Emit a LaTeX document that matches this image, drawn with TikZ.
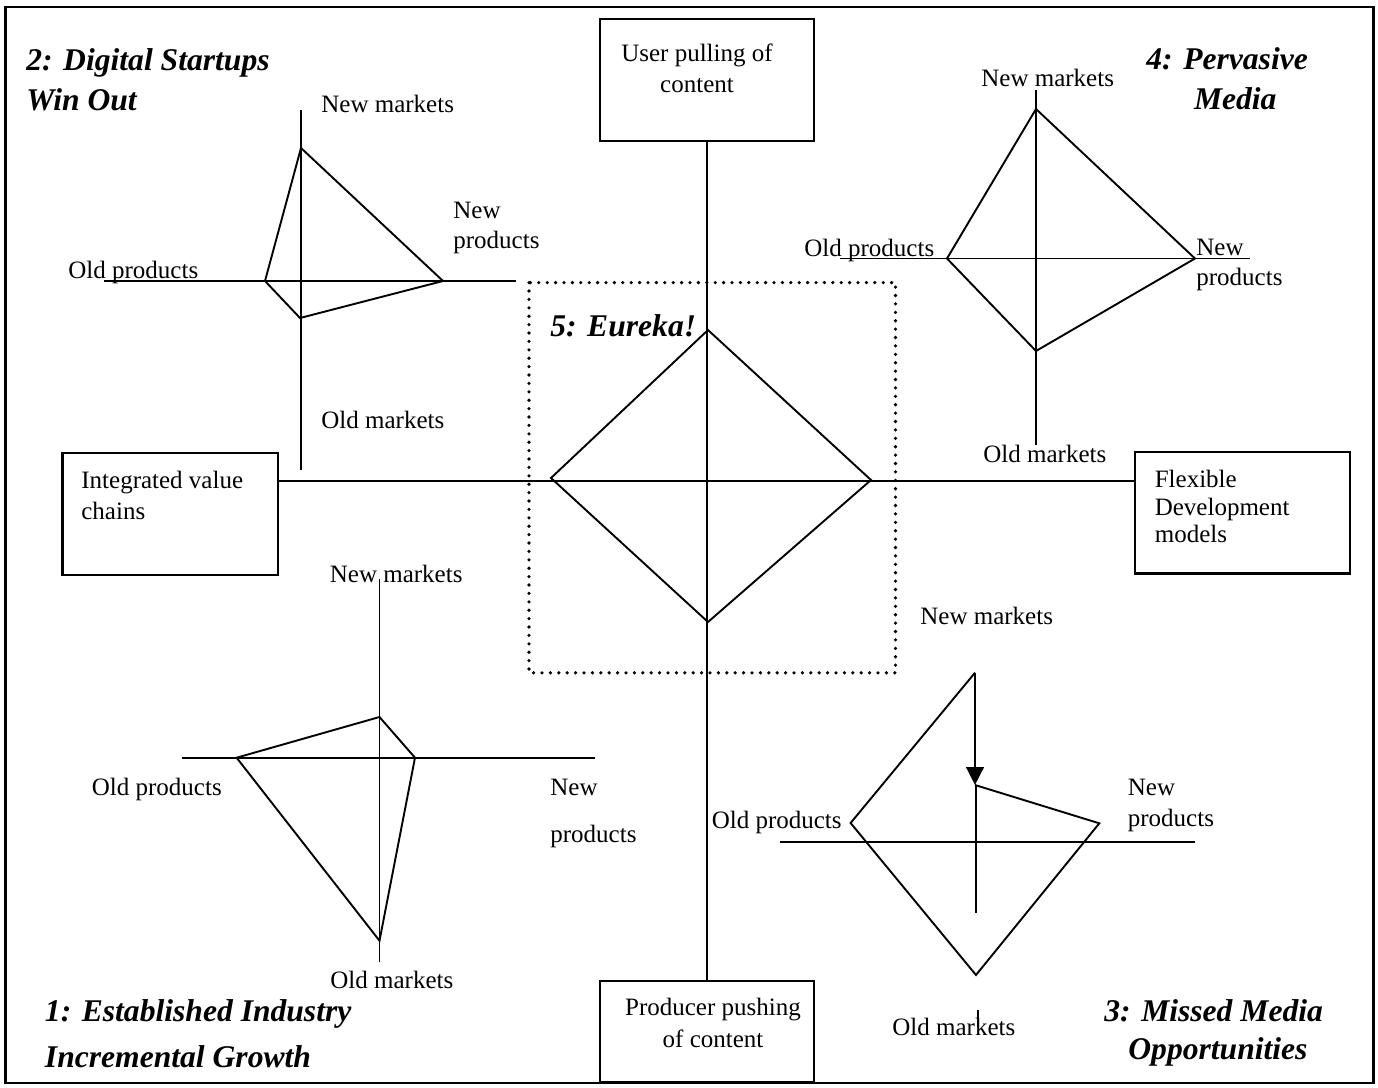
\documentclass[tikz,border=0pt]{standalone}
\usepackage{fontspec}
\setmainfont{Liberation Serif}
\usetikzlibrary{arrows.meta,calc}
\begin{document}
\begin{tikzpicture}[x=0.5pt,y=-0.5pt,
  lab/.style={font=\fontsize{12.5}{15}\selectfont, inner sep=0pt, anchor=base west},
  labc/.style={lab, anchor=base},
  ttl/.style={font=\fontsize{15.8}{19}\selectfont\bfseries\itshape, inner sep=0pt, anchor=base west},
  boxnode/.style={draw, line width=1.1pt, inner sep=0pt},
  ln/.style={line width=0.95pt},
  dotline/.style={line width=1.8pt, dash pattern=on 0pt off 4.2pt, line cap=round},
  line join=miter]
\useasboundingbox (0,0) rectangle (1378,1088);
\draw[line width=1.1pt] (5.5,7) rectangle (1373.4,1083);

% ---- axis boxes ----
\node[boxnode, minimum width=107pt, minimum height=61pt] (pull) at (707,80) {};
\node[boxnode, minimum width=107.3pt, minimum height=50.6pt] (push) at (707,1031.3) {};
\node[boxnode, minimum width=107.6pt, minimum height=61pt] (integ) at (170,514) {};
\node[boxnode, minimum width=107.5pt, minimum height=60.7pt] (flex) at (1242.5,512.7) {};
\coordinate (hc) at (707,481);

\node[labc] (pullA) at (697,61) {User pulling of};
\node[labc] (pullB) at (697,92.5) {content};
\node[labc] (pushA) at (713,1015) {Producer pushing};
\node[labc] (pushB) at (713,1047) {of content};
\node[lab] (integA) at (81,488.6) {Integrated value};
\node[lab] (integB) at (81,519) {chains};
\node[lab] (flexA) at (1154.4,487) {Flexible};
\node[lab] (flexB) at (1154.4,515) {Development};
\node[lab] (flexC) at (1154.4,542) {models};

\draw[ln] (pull.south) -- (push.north);
\draw[ln] (integ.east |- hc) -- (flex.west |- hc);

% ---- 5: Eureka ----
\draw[dotline] (529,282.6) rectangle (895.5,672.8);
\draw[ln] (708,330) -- (871,480) -- (708,622) -- (551,478) -- cycle;
\node[ttl] (t5) at (550,336) {5: Eureka!};

% ---- 2: Digital Startups ----
\node[ttl] (t2a) at (26,70) {2: Digital Startups};
\node[ttl] (t2b) at (26,110) {Win Out};
\draw[ln] (301,110) -- (301,470);
\draw[ln] (104,281) -- (516,281);
\draw[ln] (301,148) -- (443,281) -- (300,318) -- (265,281) -- cycle;
\node[lab] (q2nm) at (321,112) {New markets};
\node[lab] (q2np1) at (453,218) {New};
\node[lab] (q2np2) at (453,248) {products};
\node[lab] (q2op) at (68,278) {Old products};
\node[lab] (q2om) at (321,428) {Old markets};

% ---- 4: Pervasive Media ----
\node[ttl] (t4a) at (1146,69.6) {4: Pervasive};
\node[ttl] (t4b) at (1193.6,109) {Media};
\draw[ln] (1036,90) -- (1036,445);
\draw[ln] (840,258.5) -- (1250,258.5);
\draw[ln] (1036,109) -- (1195,258.5) -- (1036,351) -- (947,258.5) -- cycle;
\node[lab] (q4nm) at (981,86) {New markets};
\node[lab] (q4op) at (804,256) {Old products};
\node[lab] (q4np1) at (1196,255) {New};
\node[lab] (q4np2) at (1196,285.6) {products};
\node[lab] (q4om) at (983,462) {Old markets};

% ---- 1: Established Industry ----
\node[ttl] (t1a) at (44.6,1021.5) {1: Established Industry};
\node[ttl] (t1b) at (44.6,1067.5) {Incremental Growth};
\draw[ln] (379.5,579) -- (379.5,962);
\draw[ln] (182,757.7) -- (595,757.7);
\draw[ln] (379.5,717) -- (415,757.7) -- (379.5,940.7) -- (236.6,757.7) -- cycle;
\node[lab] (q1nm) at (329.5,582) {New markets};
\node[lab] (q1op) at (91.5,795.5) {Old products};
\node[lab] (q1np1) at (550,795.5) {New};
\node[lab] (q1np2) at (550,842) {products};
\node[lab] (q1om) at (330,988.6) {Old markets};

% ---- 3: Missed Media Opportunities ----
\node[ttl] (t3a) at (1104,1021.7) {3: Missed Media};
\node[ttl] (t3b) at (1128,1059) {Opportunities};
\coordinate (q3top) at (975,672.7);
\coordinate (q3tip) at (975,785);
\coordinate (q3r) at (1099.3,823.3);
\coordinate (q3b) at (976,975);
\coordinate (q3l) at (850.6,823);
\draw[ln] (779.6,842.3) -- (1195,842.3);
\draw[ln] (976,785) -- (976,913);
\draw[ln] (q3tip) -- (q3r) -- (q3b) -- (q3l) -- (q3top);
\draw[line width=1.3pt, -{Triangle[length=9pt,width=8.8pt]}] (q3top) -- (q3tip);
\draw[ln] (978,1010) -- (978,1027);
\node[lab] (q3nm) at (920,624) {New markets};
\node[lab] (q3op) at (711.4,828) {Old products};
\node[lab] (q3np1) at (1127.5,795) {New};
\node[lab] (q3np2) at (1127.5,826) {products};
\node[lab] (q3om) at (892,1035) {Old markets};
\end{tikzpicture}
\end{document}
